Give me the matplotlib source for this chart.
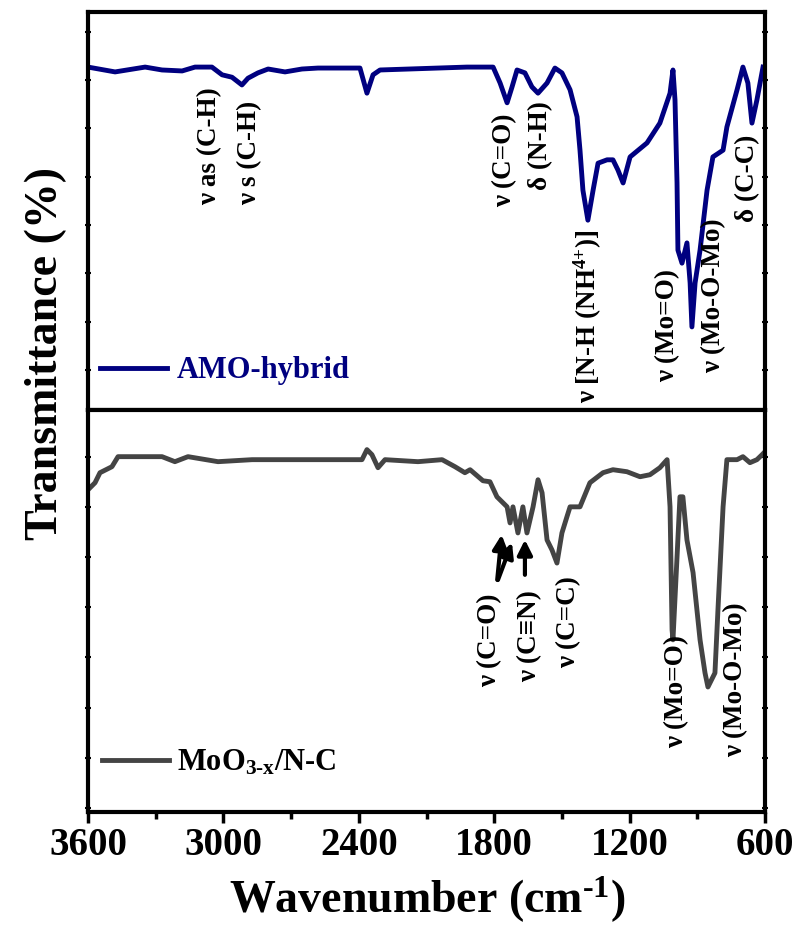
import matplotlib
matplotlib.use('Agg')
import matplotlib.pyplot as plt
from matplotlib.ticker import MultipleLocator, NullFormatter

plt.rcParams['font.family'] = ['Liberation Serif', 'DejaVu Serif']
plt.rcParams['font.weight'] = 'bold'
plt.rcParams['mathtext.fontset'] = 'custom'
plt.rcParams['mathtext.rm'] = 'Liberation Serif:bold'
plt.rcParams['mathtext.default'] = 'regular'

# AMO-hybrid spectrum (wavenumber, transmittance)
amo_wn = [3600, 3480, 3347, 3272, 3183, 3126, 3051, 3006, 2962, 2918, 2891, 2847,
          2802, 2727, 2652, 2581, 2461, 2395, 2364, 2337, 2306, 1921, 1805, 1774,
          1743, 1721, 1699, 1664, 1633, 1606, 1566, 1531, 1500, 1464, 1433, 1420,
          1407, 1385, 1362, 1340, 1300, 1274, 1252, 1229, 1198, 1123, 1066, 1021,
          1008, 999, 990, 986, 968, 946, 932, 924, 910, 888, 857, 831, 786, 769,
          724, 698, 676, 658, 636, 609]
amo_t = [72.7, 71.7, 72.7, 72.1, 71.9, 72.7, 72.7, 71.1, 70.6, 69.0, 70.4, 71.5,
         72.3, 71.7, 72.3, 72.5, 72.5, 72.5, 67.3, 71.1, 72.1, 72.7, 72.7, 69.4,
         65.3, 68.6, 72.1, 71.5, 68.6, 67.3, 69.4, 72.5, 71.5, 68.0, 62.4, 55.5,
         47.2, 41.0, 47.2, 52.8, 53.5, 53.5, 51.4, 48.7, 54.1, 57.0, 61.1, 67.3,
         72.1, 65.9, 48.7, 34.8, 32.1, 36.3, 28.0, 18.9, 28.0, 34.8, 47.2, 54.1,
         55.5, 60.3, 68.0, 72.7, 69.4, 61.1, 65.9, 72.7]

# MoO3-x/N-C spectrum
moo_wn = [3600, 3569, 3547, 3494, 3467, 3405, 3272, 3215, 3157, 3024, 2873, 2581,
          2386, 2364, 2342, 2315, 2284, 2138, 2031, 1974, 1930, 1907, 1850, 1819,
          1788, 1743, 1730, 1717, 1695, 1673, 1655, 1628, 1606, 1588, 1566, 1544,
          1522, 1500, 1478, 1464, 1420, 1376, 1318, 1274, 1212, 1154, 1110, 1066,
          1034, 1021, 1012, 1008, 990, 977, 964, 946, 919, 888, 866, 853, 822, 808,
          786, 769, 724, 698, 667, 636, 613, 600]
moo_t = [63.4, 64.8, 66.8, 68.0, 70.0, 70.0, 70.0, 69.0, 70.0, 69.0, 69.4, 69.4,
         69.4, 71.4, 70.4, 67.8, 69.4, 69.0, 69.4, 68.0, 66.8, 67.4, 65.2, 65.0,
         62.0, 60.0, 56.8, 60.0, 54.8, 60.0, 54.8, 60.0, 65.4, 62.8, 53.4, 51.4,
         48.8, 54.8, 58.0, 60.0, 60.0, 64.8, 66.8, 67.4, 67.0, 66.0, 66.4, 67.8,
         69.4, 60.0, 35.5, 33.5, 50.0, 62.0, 62.0, 53.4, 46.9, 33.5, 26.9, 24.1,
         26.9, 40.1, 60.0, 69.4, 69.4, 70.0, 68.8, 69.4, 70.4, 71.0]

# band labels: (text, wavenumber, transmittance at label bottom)
amo_labels = [
    ('ν as (C-H)', 3059, 44.1),
    ('ν s (C-H)', 2882, 44.1),
    ('ν (C=O)', 1752, 43.7),
    ('δ (N-H)', 1593, 47.2),
    ('ν [N-H (NH$^{4{+}}$)]', 1385, 3.1),
    ('ν (Mo=O)', 1030, 7.5),
    ('ν (Mo-O-Mo)', 826, 9.4),
    ('δ (C-C)', 676, 40.6),
]
moo_labels = [
    ('ν (C=O)', 1819, 24.1),
    ('ν (C≡N)', 1641, 25.0),
    ('ν (C=C)', 1469, 27.9),
    ('ν (Mo=O)', 990, 12.0),
    ('ν (Mo-O-Mo)', 729, 10.2),
]
# arrows: (tail wn, tail T, head wn, head T)
moo_arrows = [
    (1788, 44.9, 1766, 55.0),
    (1788, 44.9, 1717, 53.4),
    (1664, 45.9, 1664, 54.0),
]

fig = plt.figure(figsize=(7.98, 9.32), dpi=100)
ax1 = fig.add_axes([0.1103, 0.5601, 0.8484, 0.4270])
ax2 = fig.add_axes([0.1103, 0.1288, 0.8484, 0.4313])

ax1.plot(amo_wn, amo_t, color='#000080', lw=3.5, label='AMO-hybrid')
ax2.plot(moo_wn, moo_t, color='#444444', lw=3.5, label='MoO$_{3\u2010x}$/N-C')

ax1.set_ylim(1.7, 84.1)
ax2.set_ylim(-0.8, 79.3)

for ax in (ax1, ax2):
    ax.set_xlim(3600, 600)
    ax.xaxis.set_major_locator(MultipleLocator(600))
    ax.xaxis.set_minor_locator(MultipleLocator(300))
    ax.yaxis.set_major_locator(MultipleLocator(10))
    ax.yaxis.set_major_formatter(NullFormatter())
    ax.tick_params(axis='y', which='both', left=True, right=True,
                   direction='inout', length=5, width=1.5)
    for sp in ax.spines.values():
        sp.set_linewidth(3)

ax1.tick_params(axis='x', which='both', direction='out', length=4, width=2,
                labelbottom=False)
ax2.tick_params(axis='x', which='major', direction='out', length=8, width=2.5,
                labelsize=28, pad=3)
ax2.tick_params(axis='x', which='minor', direction='out', length=5, width=2.5)

for text, wn, t in amo_labels:
    ax1.text(wn, t, text, rotation=90, ha='center', va='bottom', fontsize=19.5)
for text, wn, t in moo_labels:
    ax2.text(wn, t, text, rotation=90, ha='center', va='bottom', fontsize=19.5)
for x0, y0, x1, y1 in moo_arrows:
    ax2.annotate('', xy=(x1, y1), xytext=(x0, y0),
                 arrowprops=dict(arrowstyle='-|>', color='black', lw=3,
                                 mutation_scale=22))

leg1 = ax1.legend(loc='center left', bbox_to_anchor=(0.0, 0.098), frameon=False,
                  fontsize=22, handlelength=2.2, handletextpad=0.3,
                  borderaxespad=0)
for t in leg1.get_texts():
    t.set_color('#000080')
ax2.legend(loc='center left', bbox_to_anchor=(0.003, 0.122), frameon=False,
           fontsize=22, handlelength=2.2, handletextpad=0.25, borderaxespad=0)

fig.text(0.057, 1 - 354 / 932, 'Transmittance (%)', rotation=90,
         ha='center', va='center', fontsize=33)
fig.text(427 / 798, 1 - 900 / 932, 'Wavenumber (cm$^{\u20101}$)',
         ha='center', va='center', fontsize=33)

fig.savefig('out.png', dpi=100)
plt.close()
